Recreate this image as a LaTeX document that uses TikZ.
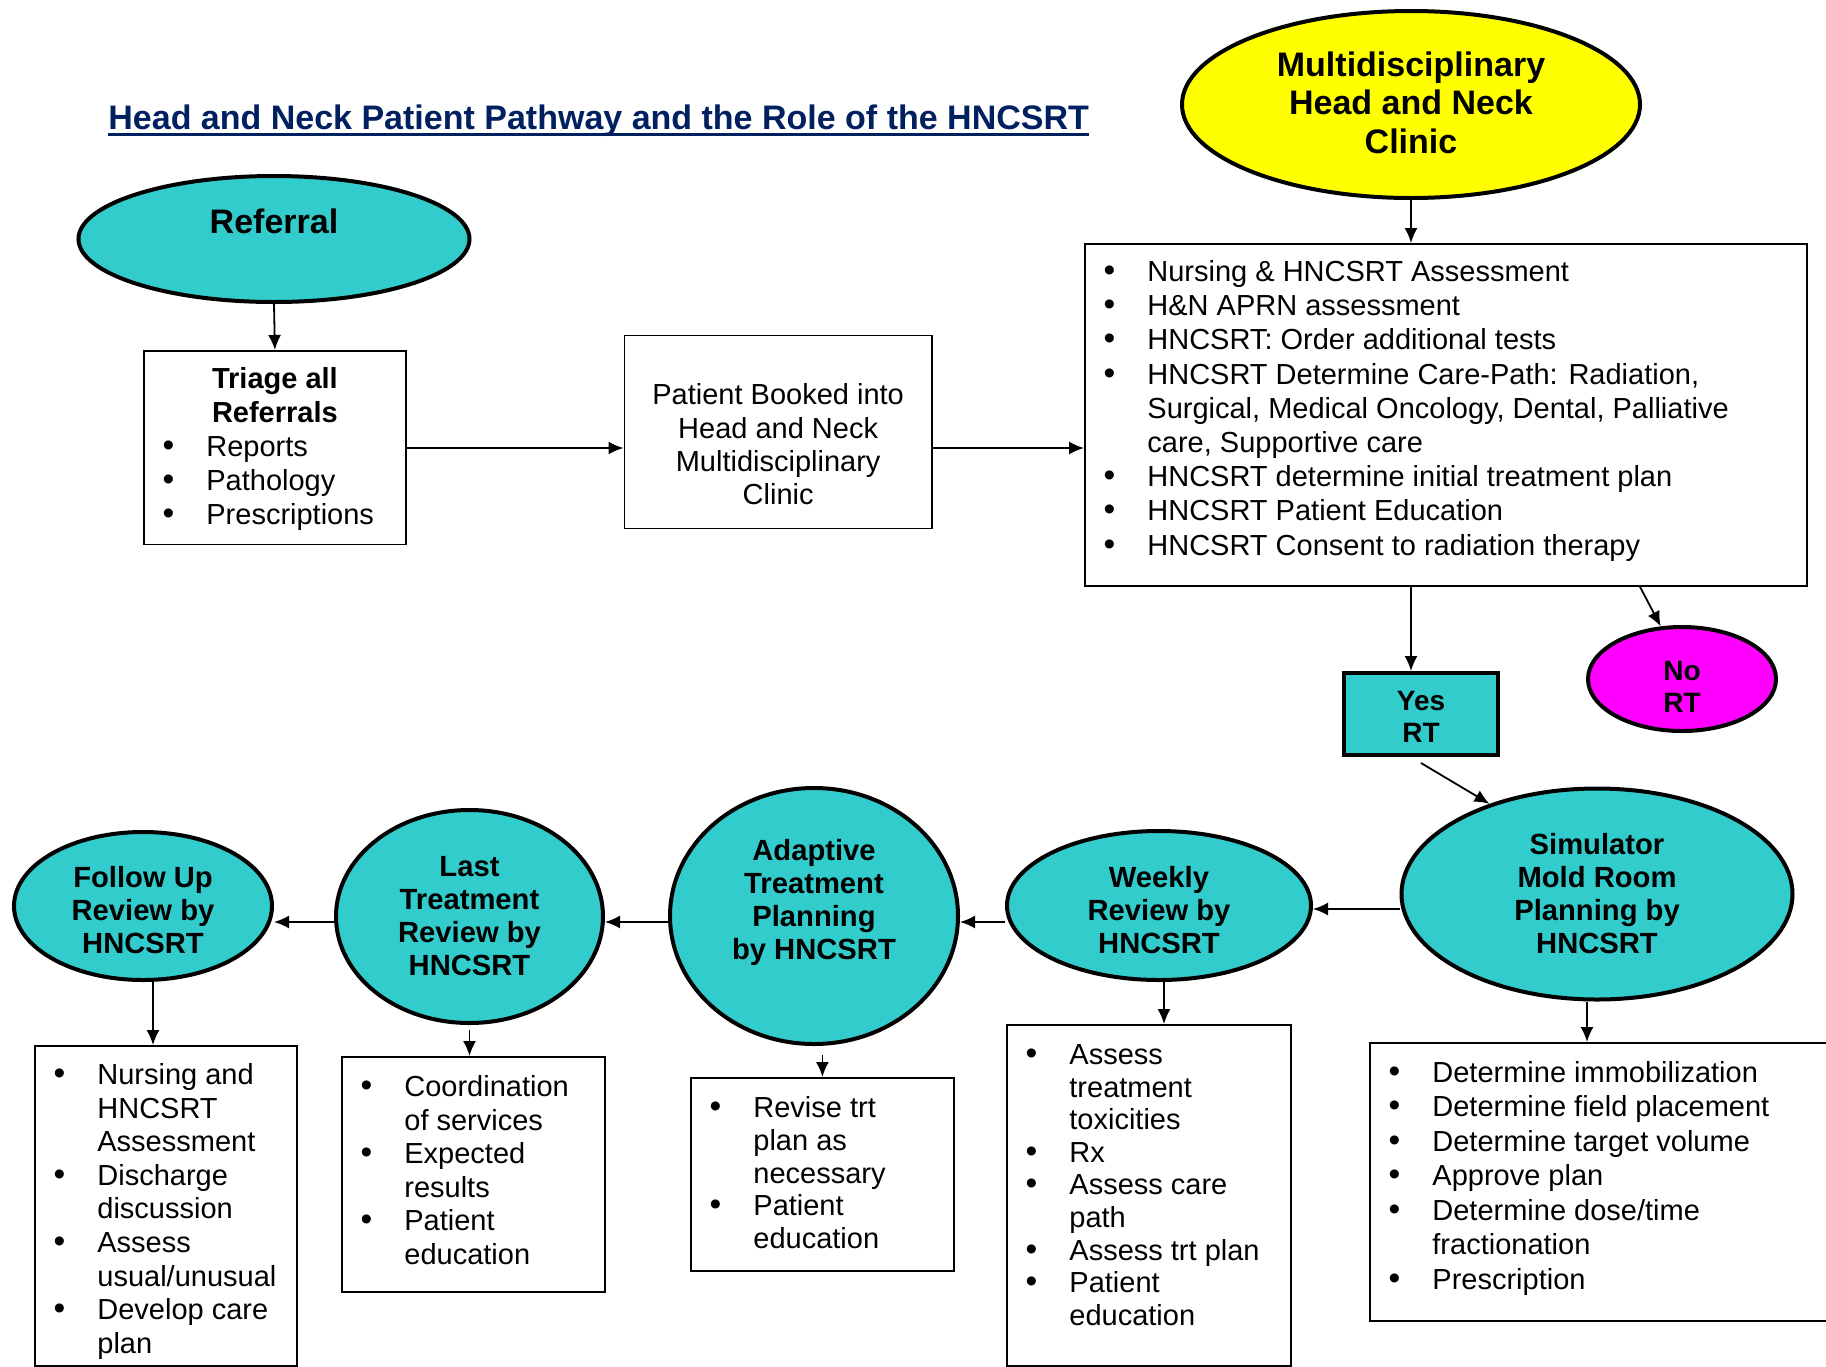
\documentclass[tikz,border=0pt]{standalone}
\usepackage{fontspec}
\setmainfont{Liberation Sans}
\usetikzlibrary{shapes.geometric,arrows.meta,calc}
\definecolor{tealf}{RGB}{51,204,204}
\definecolor{yel}{RGB}{255,255,0}
\definecolor{mag}{RGB}{255,0,255}
\definecolor{navy}{RGB}{0,32,96}
\newcommand\itm[1]{\par\noindent\strut\rlap{\hspace*{12.25pt}\makebox[0pt]{\scalebox{1.15}{•}}}\rlap{\hspace*{31.25pt}#1}}
\newcommand\cnt[1]{\par\noindent\strut\rlap{\hspace*{31.25pt}#1}}
\newcommand\ctr[1]{\par\noindent\makebox[\linewidth][c]{\strut#1}}
\newcommand\bxt[5]{\parbox[c][#2][t]{#1}{\fontsize{14.5pt}{#3}\selectfont\vspace*{\dimexpr#4-0.7\baselineskip\relax}#5\par}}
\begin{document}
\begin{tikzpicture}[x=0.5pt,y=-0.5pt,
  oval/.style={ellipse, draw, line width=2pt, fill=tealf, inner sep=0pt, align=center,
    font=\fontsize{14.6pt}{16.5pt}\selectfont\bfseries},
  bigoval/.style={oval, font=\fontsize{17pt}{19.25pt}\selectfont\bfseries},
  tbox/.style={draw, line width=0.9pt, inner sep=0pt, anchor=north west, fill=white},
  arr/.style={-{Latex[length=7.5pt,width=6.5pt]}, line width=0.9pt}]
\useasboundingbox (0,0) rectangle (1826,1366);
\fill[white] (0,0) rectangle (1826,1366);

% title
\node[anchor=base west, inner sep=0pt, text=navy, font=\fontsize{17pt}{20pt}\selectfont\bfseries] (title) at (108,129.5) {Head and Neck Patient Pathway and the Role of the HNCSRT};
\draw[navy, line width=1.6pt] ([yshift=-2.4pt]title.base west) -- ([yshift=-2.4pt]title.base east);

% top row
\node[bigoval, fill=yel, minimum width=229pt, minimum height=93.5pt] (clinic) at (1411,104.5) {Multidisciplinary\\Head and Neck\\Clinic\rule[-2pt]{0pt}{0pt}};
\node[bigoval, minimum width=195.5pt, minimum height=63pt] (referral) at (274,239) {Referral\rule[-18.2pt]{0pt}{0pt}};

\node[tbox] (triage) at (143,350) {\bxt{131pt}{96.75pt}{17pt}{18.75pt}{\ctr{\bfseries Triage all}\ctr{\bfseries Referrals}\itm{Reports}\itm{Pathology}\itm{Prescriptions}}};

\node[tbox] (booked) at (623.5,334.5) {\bxt{153.75pt}{96.5pt}{16.6pt}{34.75pt}{\ctr{Patient Booked into}\ctr{Head and Neck}\ctr{Multidisciplinary}\ctr{Clinic}}};

\node[tbox] (bigbox) at (1084,243) {\bxt{361pt}{171pt}{17.1pt}{18.75pt}{%
\itm{Nursing \& HNCSRT Assessment}
\itm{H\&N APRN assessment}
\itm{HNCSRT: Order additional tests}
\itm{HNCSRT Determine Care-Path: Radiation,}
\cnt{Surgical, Medical Oncology, Dental, Palliative}
\cnt{care, Supportive care}
\itm{HNCSRT determine initial treatment plan}
\itm{HNCSRT Patient Education}
\itm{HNCSRT Consent to radiation therapy}}};

\node[draw, line width=2pt, fill=tealf, minimum width=77pt, minimum height=41pt, inner sep=0pt, align=center,
  font=\fontsize{14pt}{16pt}\selectfont\bfseries] (yes) at (1421,714) {\rule{0pt}{12pt}Yes\\RT};
\node[oval, fill=mag, minimum width=94pt, minimum height=52pt, font=\fontsize{14pt}{16pt}\selectfont\bfseries] (nort) at (1682,679) {\rule{0pt}{17pt}No\\RT};

% lower row
\node[oval, minimum width=195.5pt, minimum height=105.5pt] (sim) at (1597,894) {Simulator\\Mold Room\\Planning by\\HNCSRT};
\node[oval, minimum width=152pt, minimum height=74.5pt] (weekly) at (1159,905.5) {\rule{0pt}{15.3pt}Weekly\\Review by\\HNCSRT};
\node[oval, minimum width=144pt, minimum height=128pt] (adaptive) at (814,916) {Adaptive\\Treatment\\Planning\\by HNCSRT\rule[-16.6pt]{0pt}{0pt}};
\node[oval, minimum width=133.5pt, minimum height=106.5pt] (last) at (469.5,916.5) {Last\\Treatment\\Review by\\HNCSRT};
\node[oval, minimum width=129pt, minimum height=74pt] (follow) at (143,906) {\rule{0pt}{14.7pt}Follow Up\\Review by\\HNCSRT};

\node[tbox] (fbox) at (34,1045) {\bxt{131pt}{160pt}{16.8pt}{19.25pt}{%
\itm{Nursing and}\cnt{HNCSRT}\cnt{Assessment}\itm{Discharge}\cnt{discussion}\itm{Assess}\cnt{usual/unusual}\itm{Develop care}\cnt{plan}}};
\node[tbox] (lbox) at (341,1056) {\bxt{131.5pt}{117.5pt}{16.8pt}{19.75pt}{%
\itm{Coordination}\cnt{of services}\itm{Expected}\cnt{results}\itm{Patient}\cnt{education}}};
\node[tbox] (abox) at (690,1077) {\bxt{131.5pt}{96.5pt}{16.4pt}{19.75pt}{%
\itm{Revise trt}\cnt{plan as}\cnt{necessary}\itm{Patient}\cnt{education}}};
\node[tbox] (wbox) at (1006,1024) {\bxt{142pt}{170.5pt}{16.3pt}{19.75pt}{%
\itm{Assess}\cnt{treatment}\cnt{toxicities}\itm{Rx}\itm{Assess care}\cnt{path}\itm{Assess trt plan}\itm{Patient}\cnt{education}}};
\node[tbox] (sbox) at (1369,1042) {\bxt{240pt}{139pt}{17.25pt}{19.75pt}{%
\itm{Determine immobilization}\itm{Determine field placement}\itm{Determine target volume}\itm{Approve plan}\itm{Determine dose/time}\cnt{fractionation}\itm{Prescription}}};

% connectors
\coordinate (ya) at (0,448);
\coordinate (yb) at (0,909);
\coordinate (yc) at (0,922);
\draw[arr] (referral.south) -- (triage.north);
\draw[arr] (triage.east |- ya) -- (booked.west |- ya);
\draw[arr] (booked.east |- ya) -- (bigbox.west |- ya);
\draw[arr] (clinic.south) -- (clinic.south |- bigbox.north);
\draw[arr] (clinic.south |- bigbox.south) -- (clinic.south |- yes.north);
\draw[arr] ($(bigbox.south west)+(556,0)$) -- (nort.112);
\draw[arr] ([yshift=-3pt]yes.south) -- (sim.140);
\draw[arr] (sim.west |- yb) -- (weekly.east |- yb);
\draw[arr] (weekly.west |- yc) -- (adaptive.east |- yc);
\draw[arr] (adaptive.west |- yc) -- (last.east |- yc);
\draw[arr] (last.west |- yc) -- (follow.east |- yc);
\draw[arr] (follow.south -| 153,0) -- (fbox.north -| 153,0);
\draw[arr] ([yshift=-2.5pt]last.south) -- (last.south |- lbox.north);
\draw[arr] ($(adaptive.south -| abox.north)+(0,9)$) -- (abox.north);
\draw[arr] (weekly.south -| 1164,0) -- (wbox.north -| 1164,0);
\draw[arr] (sim.south -| 1587,0) -- (sbox.north -| 1587,0);
\end{tikzpicture}
\end{document}
